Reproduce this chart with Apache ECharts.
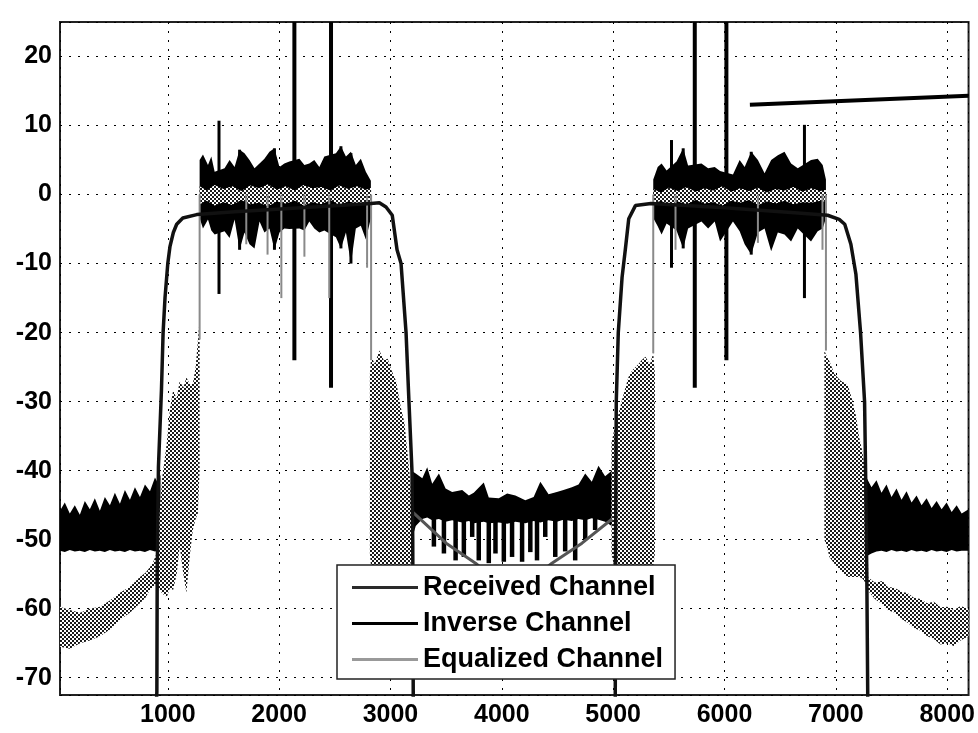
<!DOCTYPE html>
<html>
<head>
<meta charset="utf-8">
<script src="https://cdn.jsdelivr.net/npm/echarts@6.0.0/dist/echarts.min.js"></script>
<style>
html, body { margin: 0; padding: 0; background: #fff; }
#chart { width: 978px; height: 733px; }
</style>
</head>
<body>
<div id="chart"></div>
<script>
// received channel: smooth band-pass response (goes below the axis in the stop bands)
var recX = [880, 902, 905, 912, 916, 943, 958, 975, 1000, 1020, 1050, 1080, 1135, 1260, 1600, 2200, 2826, 2900, 2960, 3016, 3059, 3095, 3140, 3166, 3193, 3200, 3206,
            5018, 5022, 5025, 5028, 5046, 5080, 5109, 5140, 5200, 5340, 6000, 6600, 6926, 7030, 7080, 7135, 7180, 7222, 7258, 7267, 7278, 7290];
var recY = [-80, -72, -55, -45, -39.5, -28.4, -20, -15, -10, -7.5, -5.5, -4.3, -3.4, -2.9, -2.5, -1.9, -1.3, -1.2, -1.8, -3, -8, -10, -20, -30, -40, -50, -80,
            -80, -50, -40, -30, -20, -12, -8, -3.5, -1.6, -1.3, -1.9, -2.6, -3, -3.6, -4.3, -7.2, -11.5, -20, -30, -40, -55, -80];

// inverse channel: noisy bands, upper and lower edge
var invLeftX   = [32, 75, 120, 165, 210, 255, 300, 345, 390, 435, 480, 525, 570, 615, 660, 705, 750, 795, 840, 885, 910, 935];
var invLeftTop = [-45.8, -44.6, -46.2, -45.0, -46.4, -44.4, -45.6, -44.0, -45.8, -43.8, -45.0, -43.2, -44.8, -42.8, -44.2, -42.4, -43.8, -42.0, -43.0, -41.0, -41.8, -40.6];
var invLeftBot = [-51.6, -51.8, -51.5, -51.7, -51.6, -51.8, -51.5, -51.7, -51.6, -51.8, -51.5, -51.7, -51.6, -51.8, -51.5, -51.7, -51.6, -51.8, -51.5, -51.7, -51.6, -49.0];

var invPass1X   = [1286, 1316, 1361, 1391, 1421, 1510, 1555, 1600, 1645, 1689, 1734, 1779, 1824, 1868, 1913, 1958, 2003, 2047, 2092, 2182, 2227, 2271, 2316, 2361, 2406, 2510, 2555, 2600, 2645, 2689, 2734, 2779, 2824];
var invPass1Top = [5.0, 5.8, 4.3, 5.5, 3.3, 3.8, 5.0, 4.0, 6.5, 6.0, 5.0, 3.8, 4.5, 5.2, 6.2, 6.7, 4.0, 4.5, 4.8, 5.2, 4.3, 4.5, 5.0, 4.0, 5.5, 6.0, 7.0, 5.5, 6.2, 4.3, 5.2, 3.3, 2.0];
var invPass1Bot = [-3.4, -4.9, -3.6, -5.2, -5.8, -5.3, -6.3, -3.6, -8.0, -5.5, -7.2, -7.8, -3.9, -5.5, -4.9, -8.0, -5.5, -4.9, -5.0, -4.9, -5.2, -3.9, -4.9, -5.5, -5.2, -6.2, -7.8, -5.5, -10.0, -4.9, -4.5, -6.5, -3.4];

var invMidX   = [3190, 3227, 3286, 3330, 3375, 3435, 3495, 3554, 3644, 3704, 3748, 3838, 3883, 3973, 4048, 4122, 4211, 4286, 4346, 4420, 4494, 4554, 4629, 4689, 4749, 4808, 4868, 4928, 4987, 5035];
var invMidTop = [-40, -40.4, -41.1, -39.5, -41.9, -40.4, -42.6, -43.1, -42.8, -43.6, -43.2, -41.7, -43.9, -44.0, -43.3, -43.6, -44.3, -43.8, -41.6, -43.4, -43.1, -42.8, -42.4, -42.0, -40.4, -41.6, -39.3, -40.8, -40, -40];
var invMidBot = [-50, -48, -47, -46.8, -47.2, -47.0, -47.4, -47.2, -47.5, -47.3, -47.6, -47.4, -47.6, -47.5, -47.7, -47.4, -47.6, -47.3, -47.5, -47.2, -47.4, -47.1, -47.3, -47.0, -47.2, -46.9, -47.1, -47.4, -48, -50];

var invPass2X   = [5360, 5400, 5435, 5480, 5569, 5629, 5673, 5793, 5853, 5912, 5960, 6076, 6136, 6181, 6240, 6300, 6360, 6419, 6479, 6539, 6598, 6658, 6777, 6837, 6882, 6911];
var invPass2Top = [2.2, 4.0, 4.5, 3.5, 4.8, 6.7, 4.2, 4.5, 3.8, 4.0, 3.4, 2.9, 5.0, 4.0, 6.2, 5.0, 3.1, 5.0, 5.7, 6.2, 4.5, 3.8, 5.0, 5.2, 4.3, 2.2];
var invPass2Bot = [-3.4, -4.6, -5.8, -4.2, -5.2, -7.8, -4.9, -3.9, -4.9, -3.9, -6.8, -3.9, -5.3, -7.2, -8.7, -5.5, -4.9, -8.2, -5.5, -5.8, -6.8, -4.9, -6.8, -5.3, -4.9, -3.4];

var invRightX   = [7275, 7320, 7365, 7410, 7455, 7500, 7545, 7590, 7635, 7680, 7725, 7770, 7815, 7860, 7905, 7950, 7995, 8040, 8085, 8130, 8192];
var invRightTop = [-41.0, -42.4, -41.4, -43.2, -42.0, -43.8, -42.6, -44.2, -43.0, -44.6, -43.6, -45.0, -44.0, -45.4, -44.4, -45.6, -44.6, -46.0, -45.0, -46.2, -45.6];
var invRightBot = [-52.4, -52.0, -51.7, -51.6, -51.8, -51.5, -51.7, -51.6, -51.8, -51.5, -51.7, -51.6, -51.8, -51.5, -51.7, -51.6, -51.8, -51.5, -51.7, -51.6, -51.6];

// inverse channel spikes: x, top, bottom
var invBigSpikes = [[2137, 25, -24], [2466, 25, -28], [5733, 25, -28], [6017, 25, -24]];
var invPassSpikes = [[1460, 10.7, -14.4], [1645, 6.5, -8], [1958, 6.7, -8], [2555, 7, -7.8], [2645, 6, -10],
  [5524, 7.9, -10.6], [5629, 6.7, -7.8], [6240, 6.2, -8.7], [6718, 10.1, -15]];
var invMidSpikes = [[3390, -46, -51], [3480, -46, -52], [3585, -46, -53], [3659, -46, -52.5], [3734, -46, -49.6], [3793, -46, -53],
  [3883, -46, -53.4], [3943, -46, -52], [4018, -46, -53.2], [4092, -46, -52.5], [4182, -46, -53.2], [4256, -46, -51.8],
  [4316, -46, -53], [4390, -46, -49.6], [4480, -46, -52.5], [4569, -46, -51.7], [4659, -46, -53], [4749, -46, -50], [4838, -46, -48.6]];

// equalized channel: bands, upper and lower edge
var eqLeftX   = [32, 120, 213, 300, 392, 480, 571, 660, 750, 800, 839, 870, 899];
var eqLeftTop = [-59.7, -60.2, -60.6, -60.0, -59.7, -58.8, -57.7, -56.8, -55.4, -54.8, -54.0, -53.2, -52.0];
var eqLeftBot = [-65.5, -65.8, -65.0, -64.6, -64.0, -63.0, -61.6, -60.6, -59.2, -58.4, -57.3, -56.8, -56.3];

var eqRise1X   = [899, 915, 950, 991, 1020, 1048, 1080, 1107, 1140, 1167, 1200, 1225, 1250, 1270, 1286];
var eqRise1Top = [-52, -48, -41, -36, -31, -28.4, -29.5, -27, -28, -26.5, -27.5, -27.4, -25, -21.2, -18];
var eqRise1Bot = [-56.3, -57, -57.8, -58.3, -57, -57.3, -55, -51, -55, -57.7, -52, -48.6, -47, -46.2, -40];

var eqPass1X   = [1286, 1350, 1420, 1500, 1580, 1660, 1740, 1820, 1900, 1980, 2060, 2140, 2220, 2300, 2380, 2460, 2540, 2620, 2700, 2780, 2826];
var eqPass1Top = [1.2, 0.6, 1.4, 0.8, 1.2, 0.5, 1.3, 0.9, 1.5, 0.7, 1.2, 0.6, 1.4, 0.9, 1.1, 0.6, 1.3, 0.8, 1.2, 0.7, 1.0];
var eqPass1Bot = [-1.4, -0.9, -1.6, -1.1, -1.5, -0.8, -1.4, -1.2, -1.7, -1.0, -1.3, -0.9, -1.6, -1.1, -1.4, -0.8, -1.5, -1.0, -1.3, -1.1, -1.2];

var eqFall1X   = [2815, 2826, 2860, 2900, 2940, 2975, 3010, 3050, 3095, 3125, 3150, 3175, 3195];
var eqFall1Top = [-26, -23.5, -24.5, -22.6, -24, -23.8, -25.5, -27, -31, -33, -37, -41, -46];
var eqFall1Bot = [-52, -54, -55, -55, -54.8, -55, -55, -54, -54, -55, -55, -54, -52];

var eqRise2X   = [4985, 5010, 5030, 5075, 5110, 5136, 5170, 5200, 5230, 5255, 5290, 5330, 5360, 5375];
var eqRise2Top = [-36, -34, -33, -30, -28, -26.5, -25.5, -25, -24.5, -24, -23.5, -24.6, -23, -26];
var eqRise2Bot = [-52, -54, -55, -55, -55, -55, -55, -55, -55, -55, -55, -55, -54, -52];

var eqPass2X   = [5360, 5430, 5500, 5580, 5660, 5740, 5820, 5900, 5980, 6060, 6140, 6220, 6300, 6380, 6460, 6540, 6620, 6700, 6780, 6860, 6911];
var eqPass2Top = [0.8, 0.3, 1.0, 0.5, 1.1, 0.4, 0.9, 0.6, 1.2, 0.4, 0.9, 0.5, 1.0, 0.3, 0.8, 0.6, 1.1, 0.4, 0.9, 0.5, 0.7];
var eqPass2Bot = [-1.3, -0.9, -1.5, -1.0, -1.4, -0.8, -1.3, -1.1, -1.6, -0.9, -1.2, -0.8, -1.5, -1.0, -1.3, -0.9, -1.4, -1.1, -1.2, -0.9, -1.1];

var eqFall2X   = [6897, 6920, 6942, 6987, 7046, 7106, 7150, 7180, 7210, 7235, 7255, 7275, 7290];
var eqFall2Top = [-22.6, -23.5, -24.1, -26, -27, -27.5, -29.9, -32, -35.2, -37, -39, -45, -54];
var eqFall2Bot = [-50, -51, -52.5, -53.5, -54.5, -55.4, -55.4, -55.4, -55.4, -55.6, -56, -56.5, -57];

var eqRightX   = [7285, 7350, 7420, 7463, 7530, 7600, 7642, 7700, 7760, 7821, 7880, 7940, 8000, 8060, 8120, 8192];
var eqRightTop = [-55.4, -56.2, -56.0, -56.8, -57.0, -57.6, -57.7, -58.4, -58.6, -59.2, -59.0, -59.8, -59.7, -60.2, -59.6, -60.0];
var eqRightBot = [-57.3, -58.6, -59.4, -60.2, -60.6, -61.6, -62.0, -62.8, -63.2, -64.0, -64.4, -65.2, -65.0, -65.4, -64.6, -64.0];

// equalized channel in the middle stop band (V shape)
var eqMidX = [3200, 3500, 3764, 4100, 4450, 4720, 4990];
var eqMidY = [-46, -50.5, -53.4, -58, -53.4, -50.5, -47];

// equalized channel spikes: x, top, bottom
var eqSpikes = [[1286, 0, -21], [1705, 0, -7.2], [1896, 0, -8.7], [2020, 0, -15], [2227, 0, -9], [2450, 0, -15],
  [2790, 0, -10.6], [2826, 0, -24], [5360, 0, -23], [5560, 0, -8], [6300, 0, -7], [6880, 0, -8], [6911, 0, -22.6]];

// pointer line in the upper right
var pointer = [[6228, 13.0], [8192, 14.3]];

var legendNames = ['Received Channel', 'Inverse Channel', 'Equalized Channel'];

function zip(xs, ys) {
  return xs.map(function (x, i) { return [x, ys[i]]; });
}
function band(xs, top, bot) {
  return { xs: xs, top: top, bot: bot };
}

var invBands = [
  band(invLeftX, invLeftTop, invLeftBot),
  band(invPass1X, invPass1Top, invPass1Bot),
  band(invMidX, invMidTop, invMidBot),
  band(invPass2X, invPass2Top, invPass2Bot),
  band(invRightX, invRightTop, invRightBot)
];
var eqBands = [
  band(eqLeftX, eqLeftTop, eqLeftBot),
  band(eqRise1X, eqRise1Top, eqRise1Bot),
  band(eqPass1X, eqPass1Top, eqPass1Bot),
  band(eqFall1X, eqFall1Top, eqFall1Bot),
  band(eqRise2X, eqRise2Top, eqRise2Bot),
  band(eqPass2X, eqPass2Top, eqPass2Bot),
  band(eqFall2X, eqFall2Top, eqFall2Bot),
  band(eqRightX, eqRightTop, eqRightBot)
];

// dithered grey like the scan
var dither = document.createElement('canvas');
dither.width = 4;
dither.height = 4;
var dctx = dither.getContext('2d');
dctx.fillStyle = '#fff';
dctx.fillRect(0, 0, 4, 4);
dctx.fillStyle = '#1a1a1a';
dctx.fillRect(0, 0, 2, 2);
dctx.fillRect(2, 2, 2, 2);
var greyFill = { image: dither, repeat: 'repeat' };

function bandSeries(name, bands, fill, z) {
  return {
    type: 'custom', name: name, coordinateSystem: 'cartesian2d', silent: true, clip: true, z: z,
    data: bands.map(function (b) { return [b.xs[0], b.top[0]]; }),
    renderItem: function (params, api) {
      var b = bands[params.dataIndex];
      var pts = [];
      for (var i = 0; i < b.xs.length; i++) pts.push(api.coord([b.xs[i], b.top[i]]));
      for (var j = b.xs.length - 1; j >= 0; j--) pts.push(api.coord([b.xs[j], b.bot[j]]));
      return { type: 'polygon', shape: { points: pts }, style: { fill: fill } };
    }
  };
}

function spikeSeries(name, spikes, color, width, z) {
  return {
    type: 'custom', name: name, coordinateSystem: 'cartesian2d', silent: true, clip: true, z: z,
    data: spikes,
    encode: { x: 0, y: [1, 2] },
    renderItem: function (params, api) {
      var a = api.coord([api.value(0), api.value(1)]);
      var b = api.coord([api.value(0), api.value(2)]);
      return { type: 'line', shape: { x1: a[0], y1: a[1], x2: b[0], y2: b[1] }, style: { stroke: color, lineWidth: width } };
    }
  };
}

var chart = echarts.init(document.getElementById('chart'));
var labelFont = { fontSize: 25, fontWeight: 'bold', fontFamily: 'Liberation Sans, Arial, sans-serif', color: '#000' };
var gridLine = { show: true, lineStyle: { color: '#000', width: 1, type: [2, 7] } };

var option = {
  backgroundColor: '#fff',
  animation: false,
  grid: { left: 60, right: 6, top: 22, bottom: 38, show: true, borderColor: '#222', borderWidth: 2 },
  xAxis: {
    type: 'value', min: 32, max: 8192, splitNumber: 8,
    axisLine: { show: false }, axisTick: { show: false },
    axisLabel: Object.assign({ margin: 8, formatter: function (v) { return (v > 0 && v % 1000 === 0) ? v : ''; } }, labelFont),
    splitLine: gridLine
  },
  yAxis: {
    type: 'value', min: -72.5, max: 25, splitNumber: 10,
    axisLine: { show: false }, axisTick: { show: false },
    axisLabel: Object.assign({ margin: 8, formatter: function (v) { return v % 10 === 0 ? v : ''; } }, labelFont),
    splitLine: gridLine
  },
  legend: {
    orient: 'vertical', left: 337, top: 565, z: 20,
    backgroundColor: '#fff', borderColor: '#222', borderWidth: 1.5, borderRadius: 0,
    padding: [9, 12, 6, 15], itemGap: 9, itemWidth: 66, itemHeight: 3, icon: 'rect',
    selectedMode: false,
    textStyle: { fontSize: 27, fontWeight: 'bold', fontFamily: 'Liberation Sans, Arial, sans-serif', color: '#000' },
    data: [
      { name: legendNames[0], itemStyle: { color: '#2a2a2a' } },
      { name: legendNames[1], itemStyle: { color: '#000' } },
      { name: legendNames[2], itemStyle: { color: '#999' } }
    ]
  },
  series: [
    bandSeries(legendNames[1], invBands, '#000', 2),
    spikeSeries(legendNames[1], invBigSpikes, '#000', 4, 2),
    spikeSeries(legendNames[1], invPassSpikes, '#000', 3, 2),
    spikeSeries(legendNames[1], invMidSpikes, '#000', 4.5, 2),
    bandSeries(legendNames[2], eqBands, greyFill, 3),
    spikeSeries(legendNames[2], eqSpikes, '#8a8a8a', 2, 3),
    {
      type: 'line', name: legendNames[2], data: zip(eqMidX, eqMidY), z: 3,
      showSymbol: false, silent: true, lineStyle: { color: '#555', width: 3 }
    },
    {
      type: 'line', name: legendNames[0], data: zip(recX, recY), z: 4,
      showSymbol: false, silent: true, clip: true,
      lineStyle: { color: '#111', width: 3.5 },
      markLine: {
        silent: true, symbol: ['none', 'none'], label: { show: false },
        lineStyle: { color: '#000', width: 4, type: 'solid' },
        data: [[{ coord: pointer[0] }, { coord: pointer[1] }]]
      }
    }
  ]
};
chart.setOption(option);
</script>
</body>
</html>
